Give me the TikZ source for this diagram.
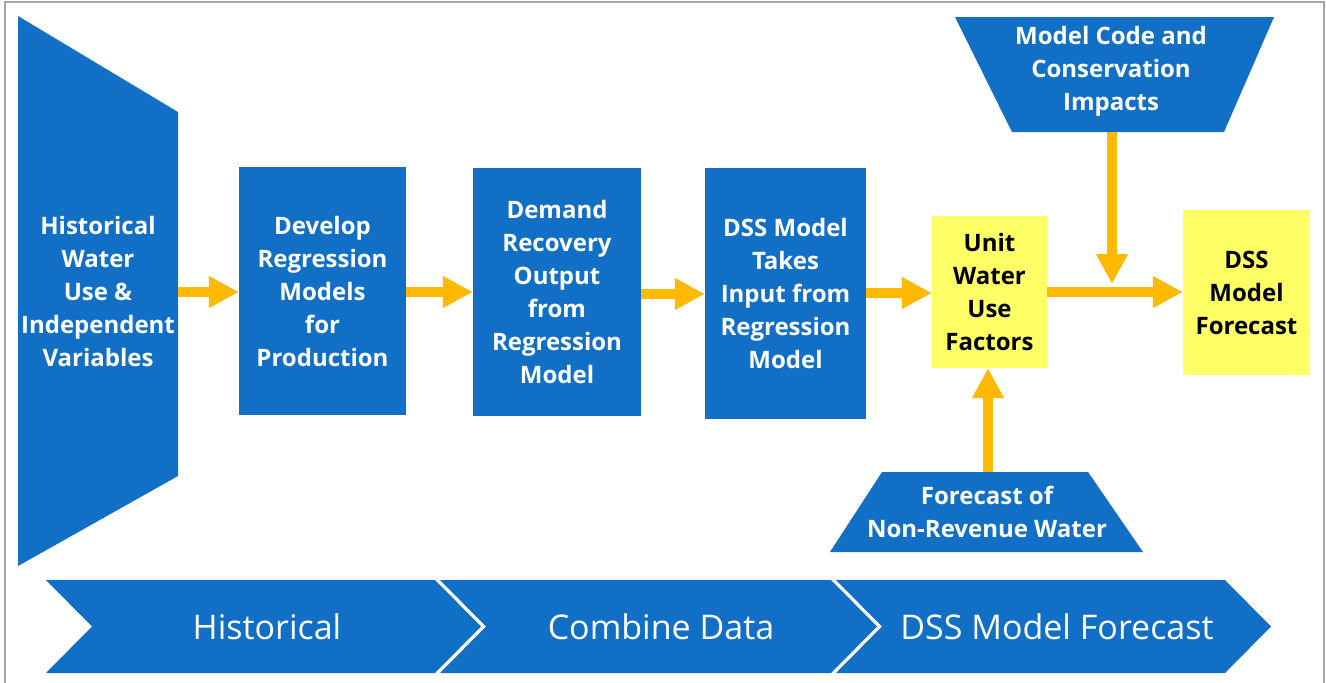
\documentclass[tikz,border=0pt]{standalone}
\usepackage{fontspec}
\setmainfont{Open Sans}
\usetikzlibrary{arrows.meta}
\definecolor{bblue}{HTML}{1170C6}
\definecolor{byellow}{HTML}{FFFF66}
\definecolor{borange}{HTML}{FFB900}
\definecolor{framegray}{HTML}{A6A6A6}
\begin{document}
\begin{tikzpicture}[x=1pt,y=-1pt,
  boxtxt/.style={text=white, font=\bfseries\fontsize{24}{33}\selectfont, align=center, inner sep=0pt},
  bluebox/.style={boxtxt, fill=bblue},
  yellowbox/.style={fill=byellow, text=black, font=\bfseries\fontsize{24}{33}\selectfont, align=center, inner sep=0pt},
  arr/.style={draw=borange, line width=10pt, -{Triangle[length=30pt,width=30pt]}},
  chevtxt/.style={text=white, font=\fontsize{34}{40}\selectfont, inner sep=0pt}]
\useasboundingbox (0,0) rectangle (1326,683);
\fill[white] (0,0) rectangle (1326,683);
\draw[framegray, line width=1.5pt] (5,690) -- (5,2) -- (1324,2) -- (1324,690);

% left input shape
\fill[bblue] (18,16) -- (178,112) -- (178,476) -- (18,566) -- cycle;
\node[boxtxt] (hist) at (98,291) {Historical\\Water\\Use \&\\Independent\\Variables};
\coordinate (histE) at (178,292);

% process boxes
\node[bluebox, minimum width=167pt, minimum height=248pt] (dev) at (322.5,291) {Develop\\Regression\\Models\\for\\Production};
\node[bluebox, minimum width=168pt, minimum height=248pt] (dem) at (557,292) {Demand\\Recovery\\Output\\from\\Regression\\Model};
\node[bluebox, minimum width=161pt, minimum height=251pt] (dss) at (785.5,293.5) {DSS Model\\Takes\\Input from\\Regression\\Model};
\node[yellowbox, minimum width=115pt, minimum height=152pt] (uwf) at (989.5,292) {Unit\\Water\\Use\\Factors};
\node[yellowbox, minimum width=127pt, minimum height=165pt] (dssf) at (1246.5,292.5) {DSS\\Model\\Forecast};

% top trapezoid
\fill[bblue] (955,17) -- (1274,17) -- (1224,132) -- (1012,132) -- cycle;
\node[boxtxt] (mcc) at (1111,71) {Model Code and\\Conservation\\Impacts};
\coordinate (mccS) at (1112,132);
\coordinate (join) at (1112,284);

% bottom trapezoid
\fill[bblue] (882,472) -- (1088,472) -- (1143,552) -- (830,552) -- cycle;
\node[boxtxt] (nrw) at (987,512) {Forecast of\\Non-Revenue Water};
\coordinate (nrwN) at (988,472);

% arrows
\draw[arr] (histE) -- (histE -| dev.west);
\draw[arr] (dev.east |- 0,292) -- (dem.west |- 0,292);
\draw[arr] (dem.east |- 0,294) -- (dss.west |- 0,294);
\draw[arr] (dss.east |- 0,293) -- (uwf.west |- 0,293);
\draw[arr] (uwf.east |- 0,292) -- (dssf.west |- 0,292);
\draw[arr] (mccS) -- (join);
\draw[arr] (nrwN) -- (nrwN |- uwf.south);

% chevrons
\fill[bblue] (46,580) -- (435,580) -- (481,626.5) -- (435,673) -- (46,673) -- (92,626.5) -- cycle;
\fill[bblue] (440,580) -- (831,580) -- (877,626.5) -- (831,673) -- (440,673) -- (486,626.5) -- cycle;
\fill[bblue] (836,580) -- (1225,580) -- (1271,626.5) -- (1225,673) -- (836,673) -- (882,626.5) -- cycle;
\node[chevtxt] (c1) at (267,626.5) {Historical};
\node[chevtxt] (c2) at (661,626.5) {Combine Data};
\node[chevtxt] (c3) at (1057,626.5) {DSS Model Forecast};
\end{tikzpicture}
\end{document}
